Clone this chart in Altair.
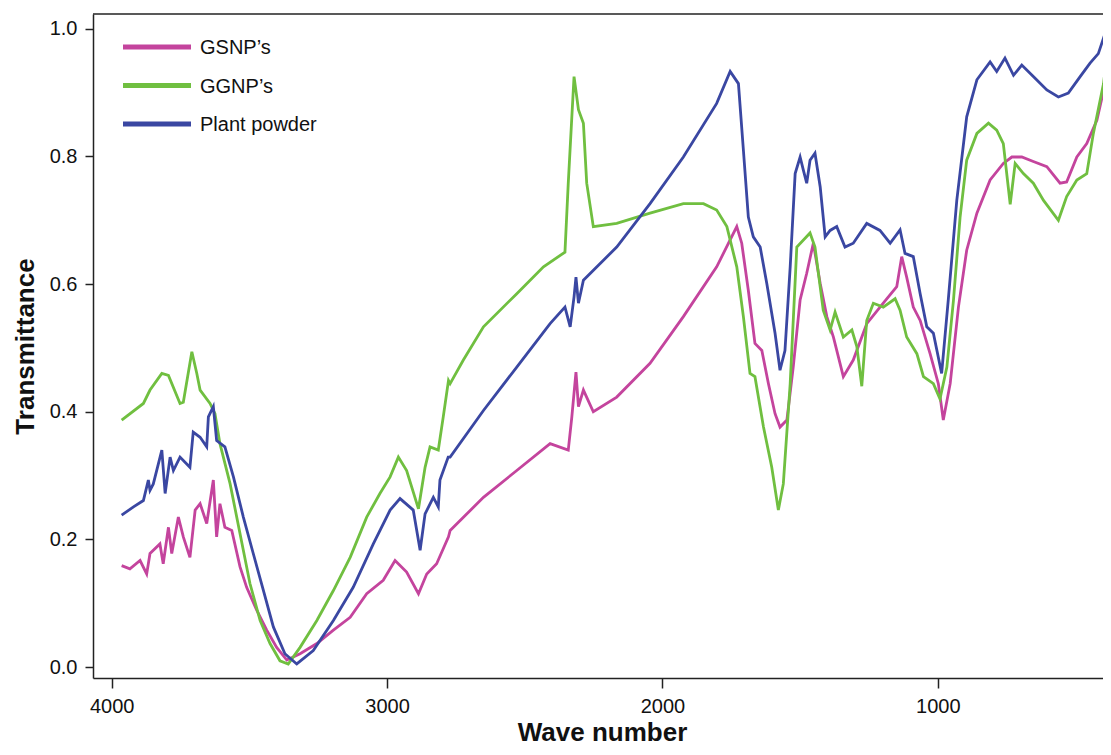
import altair as alt
import pandas as pd

# ---- data ----
gsnp_wn = [3964, 3934, 3897, 3873, 3861, 3825, 3813, 3794, 3782, 3758, 3740, 3716, 3697, 3679, 3655, 3631,
           3619, 3607, 3589, 3564, 3534, 3510, 3473, 3437, 3401, 3364, 3316, 3255, 3195, 3134, 3074, 3014,
           2971, 2929, 2886, 2856, 2820, 2777, 2771, 2650, 2529, 2408, 2342, 2329, 2314, 2305, 2287, 2251,
           2166, 2045, 1924, 1803, 1730, 1712, 1688, 1664, 1639, 1615, 1591, 1573, 1548, 1525, 1500, 1476,
           1452, 1427, 1403, 1379, 1343, 1307, 1258, 1198, 1149, 1131, 1113, 1089, 1064, 1028, 998, 980,
           955, 925, 895, 858, 810, 762, 731, 695, 653, 604, 556, 532, 495, 459, 422, 392, 374]
gsnp_t = [0.159, 0.154, 0.167, 0.146, 0.178, 0.193, 0.162, 0.219, 0.178, 0.235, 0.204, 0.172, 0.246, 0.256, 0.225, 0.293,
          0.204, 0.256, 0.219, 0.214, 0.157, 0.125, 0.089, 0.058, 0.031, 0.011, 0.021, 0.037, 0.058, 0.078, 0.115, 0.136,
          0.167, 0.149, 0.115, 0.146, 0.162, 0.204, 0.214, 0.266, 0.308, 0.350, 0.340, 0.392, 0.462, 0.408, 0.434, 0.400,
          0.423, 0.476, 0.549, 0.627, 0.690, 0.664, 0.590, 0.507, 0.496, 0.444, 0.397, 0.376, 0.387, 0.470, 0.575, 0.617,
          0.664, 0.601, 0.549, 0.517, 0.455, 0.481, 0.538, 0.570, 0.596, 0.643, 0.611, 0.564, 0.543, 0.491, 0.444, 0.387,
          0.444, 0.564, 0.653, 0.711, 0.763, 0.789, 0.799, 0.799, 0.792, 0.784, 0.758, 0.760, 0.799, 0.820, 0.857, 0.914, 0.982]

ggnp_wn = [3964, 3885, 3861, 3818, 3794, 3752, 3740, 3709, 3691, 3679, 3643, 3625, 3607, 3570, 3534, 3498,
           3461, 3425, 3389, 3359, 3316, 3255, 3195, 3134, 3074, 3026, 2989, 2959, 2929, 2886, 2862, 2844,
           2814, 2796, 2777, 2771, 2723, 2650, 2529, 2432, 2354, 2342, 2329, 2321, 2305, 2287, 2275, 2251,
           2166, 2045, 1924, 1851, 1803, 1766, 1730, 1706, 1682, 1664, 1633, 1603, 1579, 1561, 1536, 1512,
           1464, 1446, 1416, 1391, 1373, 1343, 1312, 1294, 1276, 1258, 1234, 1198, 1155, 1137, 1113, 1076,
           1052, 1016, 992, 967, 943, 919, 895, 858, 816, 786, 762, 737, 719, 689, 653, 616, 562, 532, 495,
           459, 435, 398, 374]
ggnp_t = [0.387, 0.413, 0.434, 0.460, 0.457, 0.413, 0.415, 0.494, 0.460, 0.434, 0.413, 0.397, 0.350, 0.287, 0.209, 0.131,
          0.073, 0.037, 0.010, 0.005, 0.031, 0.073, 0.120, 0.172, 0.235, 0.272, 0.298, 0.329, 0.308, 0.248, 0.313, 0.345,
          0.340, 0.392, 0.449, 0.444, 0.481, 0.533, 0.585, 0.627, 0.650, 0.758, 0.862, 0.925, 0.873, 0.852, 0.758, 0.690,
          0.695, 0.711, 0.726, 0.726, 0.716, 0.690, 0.627, 0.549, 0.460, 0.455, 0.376, 0.313, 0.246, 0.287, 0.444, 0.658,
          0.680, 0.658, 0.559, 0.528, 0.556, 0.517, 0.528, 0.502, 0.440, 0.543, 0.570, 0.564, 0.577, 0.559, 0.517, 0.491,
          0.455, 0.444, 0.420, 0.470, 0.575, 0.705, 0.794, 0.836, 0.852, 0.841, 0.820, 0.725, 0.789, 0.773, 0.758, 0.731,
          0.700, 0.737, 0.763, 0.773, 0.836, 0.914, 1.003]

plant_wn = [3964, 3921, 3885, 3867, 3861, 3849, 3818, 3806, 3788, 3776, 3752, 3716, 3704, 3679, 3655, 3649,
            3631, 3619, 3589, 3558, 3522, 3486, 3449, 3413, 3371, 3328, 3268, 3195, 3123, 3050, 2989, 2953,
            2905, 2880, 2862, 2832, 2814, 2808, 2778, 2771, 2650, 2529, 2408, 2354, 2335, 2321, 2314, 2305,
            2287, 2166, 2045, 1924, 1803, 1754, 1724, 1706, 1688, 1670, 1645, 1621, 1591, 1573, 1555, 1536,
            1518, 1500, 1488, 1476, 1464, 1446, 1427, 1409, 1391, 1367, 1337, 1307, 1258, 1210, 1173, 1137,
            1119, 1089, 1064, 1040, 1016, 986, 962, 931, 895, 858, 810, 786, 756, 725, 695, 653, 604, 562,
            526, 483, 447, 417, 392, 374]
plant_t = [0.238, 0.251, 0.261, 0.293, 0.277, 0.287, 0.340, 0.272, 0.329, 0.308, 0.329, 0.313, 0.368, 0.360, 0.345, 0.392,
           0.408, 0.355, 0.345, 0.298, 0.235, 0.178, 0.120, 0.063, 0.021, 0.005, 0.026, 0.073, 0.125, 0.193, 0.246, 0.264,
           0.246, 0.183, 0.240, 0.266, 0.251, 0.293, 0.329, 0.329, 0.402, 0.470, 0.538, 0.564, 0.533, 0.580, 0.611, 0.570,
           0.606, 0.658, 0.726, 0.799, 0.883, 0.933, 0.914, 0.810, 0.705, 0.674, 0.658, 0.601, 0.523, 0.465, 0.496, 0.627,
           0.773, 0.799, 0.778, 0.758, 0.794, 0.805, 0.752, 0.674, 0.684, 0.690, 0.658, 0.664, 0.695, 0.684, 0.664, 0.685,
           0.648, 0.643, 0.585, 0.533, 0.523, 0.460, 0.575, 0.731, 0.862, 0.920, 0.948, 0.933, 0.954, 0.927, 0.943, 0.925,
           0.904, 0.893, 0.899, 0.925, 0.946, 0.961, 0.993, 1.019]

series_names = ["GSNP\u2019s", "GGNP\u2019s", "Plant powder"]
series_colors = ["#c4449d", "#70bf40", "#3a47a2"]

frames = []
for name, wn, t in [(series_names[0], gsnp_wn, gsnp_t),
                    (series_names[1], ggnp_wn, ggnp_t),
                    (series_names[2], plant_wn, plant_t)]:
    frames.append(pd.DataFrame({"wn": wn, "T": t, "series": name, "order": range(len(wn))}))
df = pd.concat(frames, ignore_index=True)

W, H = 1010, 664
color_scale = alt.Scale(domain=series_names, range=series_colors)

lines = alt.Chart(df).mark_line(strokeWidth=2.8, clip=True).encode(
    x=alt.X("wn:Q",
            scale=alt.Scale(domain=[400, 4068], reverse=True, nice=False, zero=False),
            axis=alt.Axis(values=[1000, 2000, 3000, 4000], format="d", title="Wave number",
                          grid=False, tickSize=10, labelPadding=8,
                          titleX=509, titleY=62, titleBaseline="alphabetic")),
    y=alt.Y("T:Q",
            scale=alt.Scale(domain=[-0.017, 1.023], nice=False, zero=False),
            axis=alt.Axis(values=[0, 0.2, 0.4, 0.6, 0.8, 1.0], format=".1f", title="Transmittance",
                          grid=False, tickSize=8, labelPadding=8,
                          titleX=-60, titleY=H / 2, titleBaseline="alphabetic")),
    color=alt.Color("series:N", scale=color_scale, legend=None),
    order="order:Q",
)

# legend drawn inside the plot (top-left), built from the series names
legend_df = pd.DataFrame({
    "series": series_names,
    "ypix": [33 + 38.5 * i for i in range(len(series_names))],
})
leg_lines = alt.Chart(legend_df).mark_rule(strokeWidth=5).encode(
    x=alt.value(30), x2=alt.value(98),
    y=alt.Y("ypix:Q", scale=None),
    color=alt.Color("series:N", scale=color_scale, legend=None),
)
leg_text = alt.Chart(legend_df).mark_text(
    align="left", baseline="middle", fontSize=20, font="Liberation Sans", color="#111", dy=1
).encode(
    x=alt.value(107),
    y=alt.Y("ypix:Q", scale=None),
    text="series:N",
)

top_border = alt.Chart(pd.DataFrame({"a": [0]})).mark_rule(color="#222", strokeWidth=1.5).encode(
    x=alt.value(0), x2=alt.value(W), y=alt.value(0)
)

chart = alt.layer(lines, leg_lines, leg_text, top_border).properties(
    width=W, height=H,
    autosize=alt.AutoSizeParams(type="none"),
    padding={"left": 85, "top": 6, "right": 0, "bottom": 69},
).configure_view(stroke=None).configure_axis(
    labelFont="Liberation Sans", labelFontSize=20, labelColor="#111",
    titleFont="Liberation Sans", titleFontSize=26, titleFontWeight="bold", titleColor="#111",
    domainColor="#222", tickColor="#222", domainWidth=1.5, tickWidth=1.5,
)

chart.save("out.html", embed_options={"renderer": "svg", "actions": False})
